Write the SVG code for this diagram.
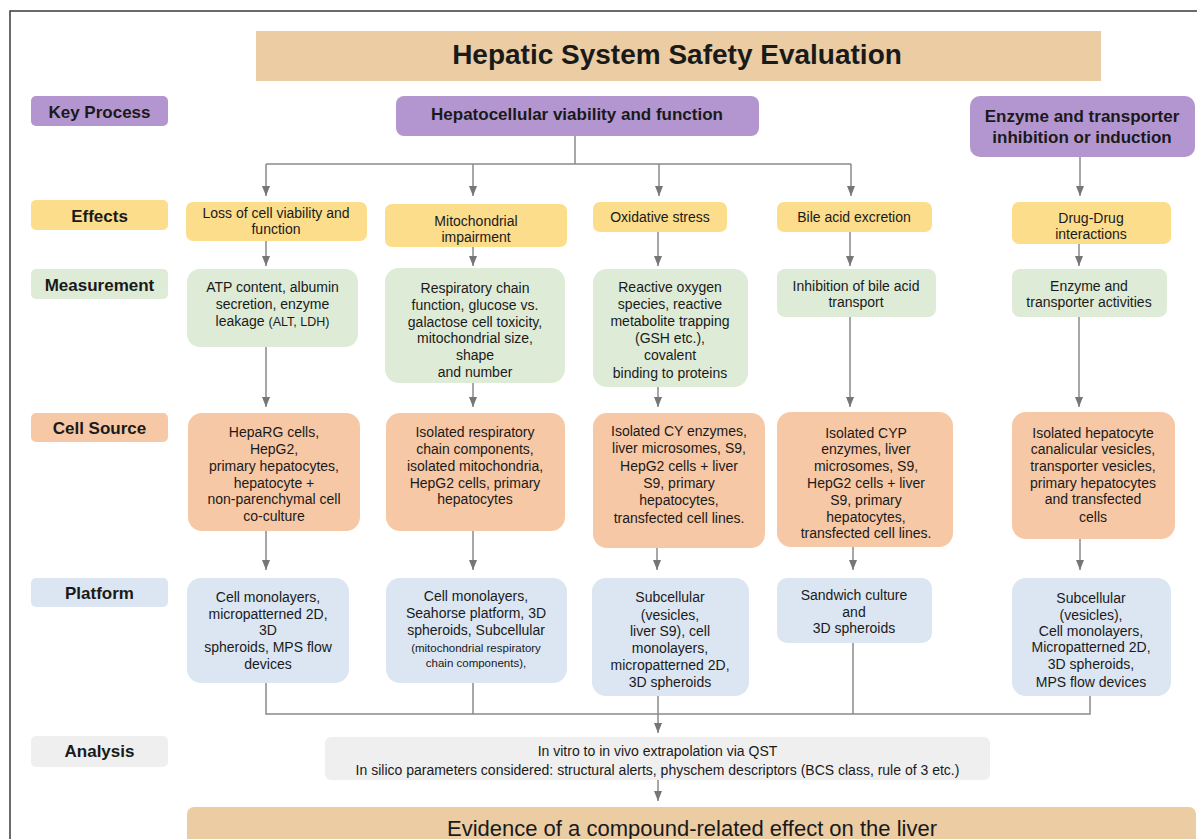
<svg xmlns="http://www.w3.org/2000/svg" width="1197" height="839" viewBox="0 0 1197 839">
<defs>
<marker id="arr" viewBox="0 0 10 8" refX="10" refY="4" markerWidth="10" markerHeight="8" markerUnits="userSpaceOnUse" orient="auto">
<path d="M0,0 L10,4 L0,8 z" fill="#767676"/>
</marker>
</defs>
<style>
text{font-family:"Liberation Sans",Arial,sans-serif;fill:#1a1a1a;text-anchor:middle}
.b{font-weight:bold;font-size:17px}
.t{font-size:14px}
.s{font-size:11.5px}
.tan{fill:#EBCCA3}
.pur{fill:#B396D0}
.yel{fill:#FCDD8C}
.grn{fill:#DEEBD7}
.sal{fill:#F7C8A5}
.blu{fill:#DBE6F2}
.gry{fill:#EFEFEF}
.ln{fill:none;stroke:#8a8a8a;stroke-width:1.5}
.ar{marker-end:url(#arr)}
</style>
<rect width="1197" height="839" fill="#ffffff"/>
<path d="M10 839 V11 H1197" fill="none" stroke="#3a3a3a" stroke-width="1.5"/>

<g id="title">
<rect class="tan" x="256" y="31" width="845" height="50"/>
<text x="677" y="64" style="font-size:28px;font-weight:bold">Hepatic System Safety Evaluation</text>
</g>

<g id="lbl-key"><rect class="pur" x="31" y="96" width="137" height="30" rx="5"/><text class="b" x="99.5" y="118">Key Process</text></g>
<g id="lbl-effects"><rect class="yel" x="31" y="200" width="137" height="30" rx="5"/><text class="b" x="99.5" y="222">Effects</text></g>
<g id="lbl-measurement"><rect class="grn" x="31" y="269" width="137" height="30" rx="5"/><text class="b" x="99.5" y="291">Measurement</text></g>
<g id="lbl-cell"><rect class="sal" x="31" y="413" width="137" height="29" rx="5"/><text class="b" x="99.5" y="434">Cell Source</text></g>
<g id="lbl-platform"><rect class="blu" x="31" y="578" width="137" height="29" rx="5"/><text class="b" x="99.5" y="599">Platform</text></g>
<g id="lbl-analysis"><rect class="gry" x="31" y="736" width="137" height="31" rx="5"/><text class="b" x="99.5" y="757">Analysis</text></g>

<g id="kp-hepato"><rect class="pur" x="396" y="96" width="363" height="40" rx="8"/><text class="b" x="577" y="120">Hepatocellular viability and function</text></g>
<g id="kp-enzyme"><rect class="pur" x="970" y="96" width="225" height="61" rx="10"/><text class="b" x="1082" y="122">Enzyme and transporter</text><text class="b" x="1082" y="143">inhibition or induction</text></g>

<g id="eff-1"><rect class="yel" x="186" y="202" width="181" height="39" rx="7"/><text class="t" x="276" y="218">Loss of cell viability and</text><text class="t" x="276" y="234">function</text></g>
<g id="eff-2"><rect class="yel" x="385" y="204" width="182" height="43" rx="7"/><text class="t" x="476" y="226">Mitochondrial</text><text class="t" x="476" y="242">impairment</text></g>
<g id="eff-3"><rect class="yel" x="593" y="202" width="134" height="30" rx="7"/><text class="t" x="660" y="222">Oxidative stress</text></g>
<g id="eff-4"><rect class="yel" x="777" y="202" width="155" height="30" rx="7"/><text class="t" x="854" y="222">Bile acid excretion</text></g>
<g id="eff-5"><rect class="yel" x="1012" y="202" width="159" height="42" rx="7"/><text class="t" x="1091" y="223">Drug-Drug</text><text class="t" x="1091" y="239">interactions</text></g>

<g id="meas-1"><rect class="grn" x="187" y="269" width="171" height="78" rx="13"/><text class="t" x="272.5" y="292">ATP content, albumin</text><text class="t" x="272.5" y="309">secretion, enzyme</text><text class="t" x="272.5" y="326">leakage <tspan style="font-size:12.5px">(ALT, LDH)</tspan></text></g>
<g id="meas-2"><rect class="grn" x="385" y="268" width="180" height="115" rx="14"/><text class="t" x="475" y="293">Respiratory chain</text><text class="t" x="475" y="310">function, glucose vs.</text><text class="t" x="475" y="327">galactose cell toxicity,</text><text class="t" x="475" y="343">mitochondrial size,</text><text class="t" x="475" y="360">shape</text><text class="t" x="475" y="377">and number</text></g>
<g id="meas-3"><rect class="grn" x="593" y="269" width="155" height="118" rx="14"/><text class="t" x="670" y="292">Reactive oxygen</text><text class="t" x="670" y="309">species, reactive</text><text class="t" x="670" y="326">metabolite trapping</text><text class="t" x="670" y="343">(GSH etc.),</text><text class="t" x="670" y="360">covalent</text><text class="t" x="670" y="378">binding to proteins</text></g>
<g id="meas-4"><rect class="grn" x="777" y="269" width="159" height="48" rx="8"/><text class="t" x="856" y="291">Inhibition of bile acid</text><text class="t" x="856" y="307">transport</text></g>
<g id="meas-5"><rect class="grn" x="1012" y="269" width="155" height="48" rx="8"/><text class="t" x="1089" y="291">Enzyme and</text><text class="t" x="1089" y="307">transporter activities</text></g>

<g id="cell-1"><rect class="sal" x="188" y="413" width="172" height="118" rx="14"/><text class="t" x="274" y="437">HepaRG cells,</text><text class="t" x="274" y="454">HepG2,</text><text class="t" x="274" y="471">primary hepatocytes,</text><text class="t" x="274" y="488">hepatocyte +</text><text class="t" x="274" y="504">non-parenchymal cell</text><text class="t" x="274" y="521">co-culture</text></g>
<g id="cell-2"><rect class="sal" x="386" y="413" width="179" height="118" rx="14"/><text class="t" x="475" y="437">Isolated respiratory</text><text class="t" x="475" y="454">chain components,</text><text class="t" x="475" y="471">isolated mitochondria,</text><text class="t" x="475" y="488">HepG2 cells, primary</text><text class="t" x="475" y="504">hepatocytes</text></g>
<g id="cell-3"><rect class="sal" x="593" y="413" width="172" height="135" rx="14"/><text class="t" x="679" y="436">Isolated CY enzymes,</text><text class="t" x="679" y="453">liver microsomes, S9,</text><text class="t" x="679" y="471">HepG2 cells + liver</text><text class="t" x="679" y="488">S9, primary</text><text class="t" x="679" y="505">hepatocytes,</text><text class="t" x="679" y="523">transfected cell lines.</text></g>
<g id="cell-4"><rect class="sal" x="777" y="412" width="176" height="135" rx="14"/><text class="t" x="866" y="438">Isolated CYP</text><text class="t" x="866" y="454">enzymes, liver</text><text class="t" x="866" y="471">microsomes, S9,</text><text class="t" x="866" y="488">HepG2 cells + liver</text><text class="t" x="866" y="505">S9, primary</text><text class="t" x="866" y="522">hepatocytes,</text><text class="t" x="866" y="538">transfected cell lines.</text></g>
<g id="cell-5"><rect class="sal" x="1012" y="412" width="163" height="127" rx="14"/><text class="t" x="1093" y="438">Isolated hepatocyte</text><text class="t" x="1093" y="454">canalicular vesicles,</text><text class="t" x="1093" y="471">transporter vesicles,</text><text class="t" x="1093" y="488">primary hepatocytes</text><text class="t" x="1093" y="504">and transfected</text><text class="t" x="1093" y="522">cells</text></g>

<g id="plat-1"><rect class="blu" x="187" y="578" width="162" height="105" rx="14"/><text class="t" x="268" y="602">Cell monolayers,</text><text class="t" x="268" y="619">micropatterned 2D,</text><text class="t" x="268" y="635">3D</text><text class="t" x="268" y="652">spheroids, MPS flow</text><text class="t" x="268" y="669">devices</text></g>
<g id="plat-2"><rect class="blu" x="386" y="578" width="181" height="105" rx="14"/><text class="t" x="476" y="601">Cell monolayers,</text><text class="t" x="476" y="618">Seahorse platform, 3D</text><text class="t" x="476" y="635">spheroids, Subcellular</text><text class="s" x="476" y="652">(mitochondrial respiratory</text><text class="s" x="476" y="667">chain components),</text></g>
<g id="plat-3"><rect class="blu" x="592" y="578" width="157" height="118" rx="14"/><text class="t" x="670" y="602">Subcellular</text><text class="t" x="670" y="620">(vesicles,</text><text class="t" x="670" y="636">liver S9), cell</text><text class="t" x="670" y="653">monolayers,</text><text class="t" x="670" y="670">micropatterned 2D,</text><text class="t" x="670" y="687">3D spheroids</text></g>
<g id="plat-4"><rect class="blu" x="777" y="578" width="155" height="65" rx="10"/><text class="t" x="854" y="600">Sandwich culture</text><text class="t" x="854" y="617">and</text><text class="t" x="854" y="633">3D spheroids</text></g>
<g id="plat-5"><rect class="blu" x="1012" y="578" width="159" height="118" rx="14"/><text class="t" x="1091" y="603">Subcellular</text><text class="t" x="1091" y="620">(vesicles),</text><text class="t" x="1091" y="636">Cell monolayers,</text><text class="t" x="1091" y="652">Micropatterned 2D,</text><text class="t" x="1091" y="669">3D spheroids,</text><text class="t" x="1091" y="687">MPS flow devices</text></g>

<g id="analysis"><rect class="gry" x="325" y="737" width="665" height="43" rx="6"/><text class="t" x="657.5" y="755.5">In vitro to in vivo extrapolation via QST</text><text class="t" x="657.5" y="775">In silico parameters considered: structural alerts, physchem descriptors (BCS class, rule of 3 etc.)</text></g>

<g id="evidence"><rect class="tan" x="187" y="807" width="1009" height="45" rx="7"/><text x="692" y="836" style="font-size:22px">Evidence of a compound-related effect on the liver</text></g>

<g id="connectors">
<path class="ln" d="M575 136 V164 M266 164 H851"/>
<path class="ln ar" d="M266 164 V196"/>
<path class="ln ar" d="M473 164 V196"/>
<path class="ln ar" d="M659 164 V196"/>
<path class="ln ar" d="M851 164 V196"/>
<path class="ln ar" d="M1080 157 V196"/>
<path class="ln ar" d="M266 241 V266"/>
<path class="ln ar" d="M473 247 V266"/>
<path class="ln ar" d="M658 232 V266"/>
<path class="ln ar" d="M850 232 V266"/>
<path class="ln ar" d="M1079 244 V266"/>
<path class="ln ar" d="M266 347 V407"/>
<path class="ln ar" d="M473 383 V407"/>
<path class="ln ar" d="M658 387 V407"/>
<path class="ln ar" d="M850 317 V407"/>
<path class="ln ar" d="M1079 317 V407"/>
<path class="ln ar" d="M266 531 V570"/>
<path class="ln ar" d="M473 531 V570"/>
<path class="ln ar" d="M657 548 V570"/>
<path class="ln ar" d="M853 547 V570"/>
<path class="ln ar" d="M1080 539 V570"/>
<path class="ln" d="M266 683 V714 H1090 V696 M473 683 V714 M853 643 V714"/>
<path class="ln ar" d="M658 696 V733"/>
<path class="ln ar" d="M658 780 V801"/>
</g>
</svg>
